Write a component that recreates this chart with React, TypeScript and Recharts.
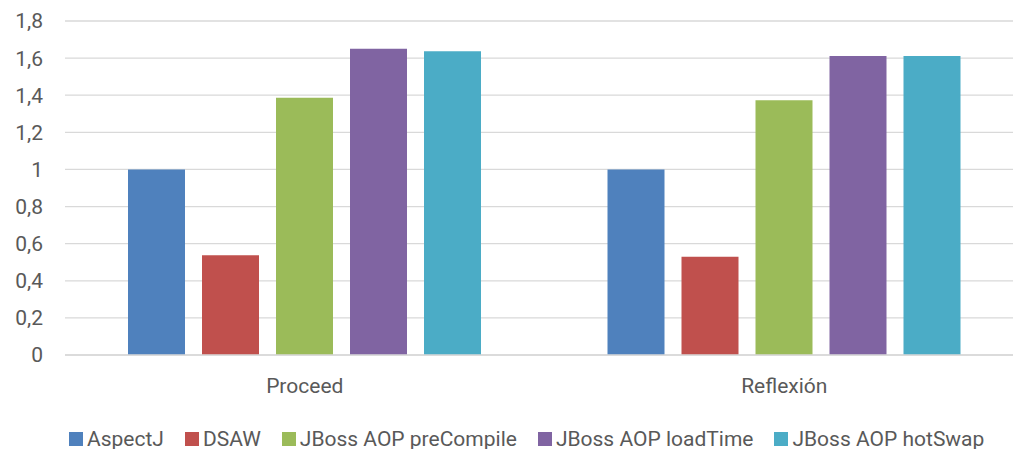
import { Bar, BarChart, CartesianGrid, Legend, XAxis, YAxis } from "recharts"

const categories = ["Proceed", "Reflexión"]
const aspectJ = [1, 1]
const dsaw = [0.537, 0.53]
const preCompile = [1.387, 1.373]
const loadTime = [1.651, 1.612]
const hotSwap = [1.637, 1.612]
const yTicks = [0, 0.2, 0.4, 0.6, 0.8, 1, 1.2, 1.4, 1.6, 1.8]

const series = [
  { name: "AspectJ", values: aspectJ, color: "#4f81bd" },
  { name: "DSAW", values: dsaw, color: "#c0504d" },
  { name: "JBoss AOP preCompile", values: preCompile, color: "#9bbb59" },
  { name: "JBoss AOP loadTime", values: loadTime, color: "#8064a2" },
  { name: "JBoss AOP hotSwap", values: hotSwap, color: "#4bacc6" },
]

const data = categories.map((name, i) => {
  const row: Record<string, string | number> = { name }
  series.forEach((s) => {
    row[s.name] = s.values[i]
  })
  return row
})

const FONT = "Roboto, 'Open Sans', sans-serif"
const TEXT = "#595959"

function LegendContent() {
  return (
    <div
      style={{
        height: 49,
        boxSizing: "border-box",
        paddingTop: 28,
        paddingLeft: 69,
        display: "flex",
        alignItems: "center",
        fontFamily: FONT,
        fontSize: 21,
        color: TEXT,
        whiteSpace: "nowrap",
      }}
    >
      {series.map((s) => (
        <div key={s.name} style={{ display: "flex", alignItems: "center", marginRight: 21, height: 21 }}>
          <span style={{ width: 14, height: 14, background: s.color, marginRight: 4, display: "inline-block" }} />
          <span>{s.name}</span>
        </div>
      ))}
    </div>
  )
}

export default function App() {
  return (
    <div
      style={{
        position: "fixed",
        left: 0,
        top: 0,
        width: 1013,
        height: 449,
        overflow: "hidden",
        background: "#fff",
      }}
    >
      <BarChart
        width={1030}
        height={449}
        data={data}
        margin={{ top: 21, right: 6, left: 0, bottom: 0 }}
        barSize={57}
        barGap={17}
      >
        <CartesianGrid vertical={false} stroke="#d9d9d9" strokeWidth={1.3} />
        <XAxis
          dataKey="name"
          height={45}
          tickLine={false}
          axisLine={{ stroke: "#d9d9d9", strokeWidth: 1.3 }}
          tickMargin={17}
          tick={{ fill: TEXT, fontSize: 21, fontFamily: FONT }}
        />
        <YAxis
          width={65}
          domain={[0, 1.8]}
          ticks={yTicks}
          interval={0}
          tickLine={false}
          axisLine={false}
          tickMargin={16}
          tick={{ fill: TEXT, fontSize: 21, fontFamily: FONT }}
          tickFormatter={(v: number) => String(v).replace(".", ",")}
        />
        <Legend
          verticalAlign="bottom"
          align="left"
          wrapperStyle={{ left: 0, width: 1030 }}
          content={<LegendContent />}
        />
        {series.map((s) => (
          <Bar key={s.name} dataKey={s.name} fill={s.color} isAnimationActive={false} />
        ))}
      </BarChart>
    </div>
  )
}
